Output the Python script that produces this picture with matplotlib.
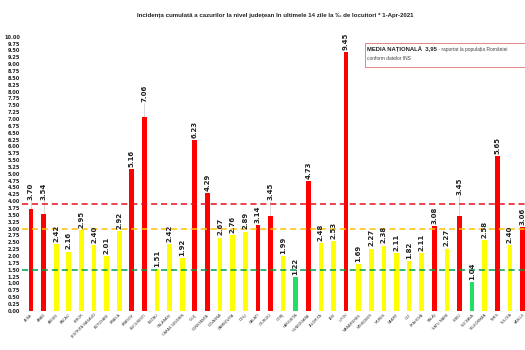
import matplotlib
matplotlib.use("Agg")
import matplotlib.pyplot as plt
from matplotlib.patches import Rectangle

# County names and 14-day cumulative incidence per 1000 inhabitants
judete = [
    "ALBA", "ARAD", "ARGES", "BACAU", "BIHOR", "BISTRITA NASAUD", "BOTOSANI",
    "BRAILA", "BRASOV", "BUCURESTI", "BUZAU", "CALARASI", "CARAS SEVERIN",
    "CLUJ", "CONSTANTA", "COVASNA", "DAMBOVITA", "DOLJ", "GALATI", "GIURGIU",
    "GORJ", "HARGHITA", "HUNEDOARA", "IALOMITA", "IASI", "ILFOV", "MARAMURES",
    "MEHEDINTI", "MURES", "NEAMT", "OLT", "PRAHOVA", "SALAJ", "SATU MARE",
    "SIBIU", "SUCEAVA", "TELEORMAN", "TIMIS", "TULCEA", "VASLUI",
]
incidenta = [
    3.70, 3.54, 2.42, 2.16, 2.95, 2.40, 2.01, 2.92, 5.16, 7.06,
    1.51, 2.42, 1.92, 6.23, 4.29, 2.67, 2.76, 2.89, 3.14, 3.45,
    1.99, 1.22, 4.73, 2.48, 2.53, 9.45, 1.69, 2.27, 2.38, 2.11,
    1.82, 2.11, 3.08, 2.27, 3.45, 1.04, 2.58, 5.65, 2.40, 3.06,
]
media_nationala = 3.95
prag_verde = 1.5
prag_galben = 3.0
linie_rosie = 3.9

# Labels that Excel pushed up, with a leader line (index -> label base)
etichete_mutate = {0: 4.05, 1: 4.05, 9: 7.62, 19: 4.05, 34: 4.22}


def culoare(v):
    if v < prag_verde:
        return "#22dd66"
    if v <= prag_galben:
        return "#ffff00"
    return "#ff0000"


fig = plt.figure(figsize=(5.25, 3.5), dpi=100)
ax = fig.add_axes([0.042, 0.112, 0.958, 0.783])

x = list(range(len(judete)))
ax.bar(x, incidenta, width=0.37, color=[culoare(v) for v in incidenta], zorder=2)

# Threshold lines drawn in front of the bars
ax.axhline(linie_rosie, color="#e8101e", lw=1.1, ls=(0, (4, 2.5)), zorder=3)
ax.axhline(prag_galben, color="#ffc000", lw=1.1, ls=(0, (4, 2.5)), zorder=3)
ax.axhline(prag_verde, color="#00a050", lw=1.1, ls=(0, (4, 2.5)), zorder=3)

for i, v in enumerate(incidenta):
    baza = etichete_mutate.get(i, v + 0.08)
    if i in etichete_mutate:
        ax.plot([i, i], [v, baza - 0.03], color="#bbbbbb", lw=0.4, zorder=1)
    ax.text(i, baza, f"{v:.2f}", rotation=90, ha="center", va="bottom",
            fontsize=5, fontweight="bold", color="#222222", clip_on=False)

ax.set_xlim(-0.71, 39.2)
ax.set_ylim(0, 10)
ax.set_yticks([k * 0.25 for k in range(41)])
ax.set_yticklabels([f"{k * 0.25:.2f}" for k in range(41)], fontsize=3.6,
                   fontweight="bold", color="#222222")
ax.set_xticks(x)
ax.set_xticklabels(judete, rotation=45, ha="right", rotation_mode="anchor",
                   fontsize=2.6, color="#333333")
ax.tick_params(length=0, pad=1.5)
for s in ax.spines.values():
    s.set_visible(False)

fig.text(0.524, 0.957,
         "Incidența cumulată a cazurilor la nivel județean în ultimele 14 zile "
         "la ‰ de locuitori * 1-Apr-2021",
         ha="center", va="center", fontsize=4.4, fontweight="bold",
         family="Liberation Sans", color="#222222")

# National average box, cut off at the right edge like the original
fig.patches.append(Rectangle((365 / 525, 1 - 67 / 350), 0.4, 24 / 350,
                             transform=fig.transFigure, facecolor="white",
                             edgecolor="#e07070", lw=0.6, zorder=5))
renderer = fig.canvas.get_renderer()
x0 = 367 / 525
y1 = 1 - 49 / 350
t1 = fig.text(x0, y1, "MEDIA NAȚIONALĂ  " + f"{media_nationala:.2f}".replace(".", ","),
              fontsize=4.2, fontweight="bold", family="Liberation Sans",
              va="center", color="#222222", zorder=6)
bb = t1.get_window_extent(renderer)
fig.text(bb.x1 / fig.bbox.width, y1, " - raportat la populația României",
         fontsize=3.5, family="Liberation Sans", va="center", color="#444444", zorder=6)
fig.text(x0, 1 - 59 / 350, "conform datelor INS", fontsize=3.5,
         family="Liberation Sans", va="center", color="#444444", zorder=6)

fig.savefig("out.png", dpi=100)
